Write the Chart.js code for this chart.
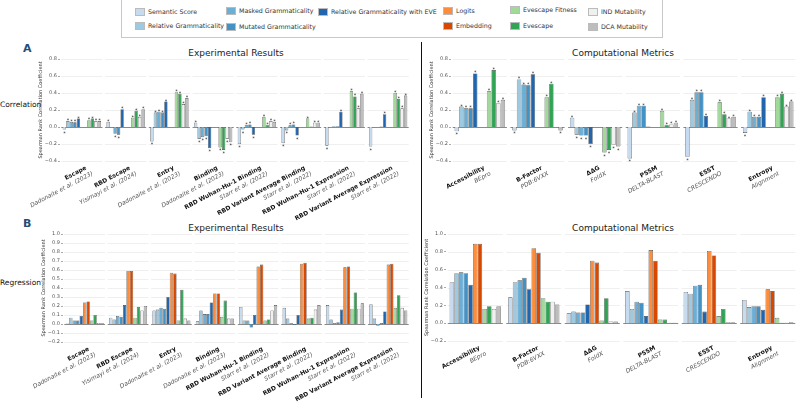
<!DOCTYPE html>
<html>
<head>
<meta charset="utf-8">
<script src="https://cdn.jsdelivr.net/npm/chart.js@4.4.1/dist/chart.umd.min.js"></script>
<style>
  body { margin: 0; width: 800px; height: 403px; position: relative; background: #fff; overflow: hidden;
         font-family: "DejaVu Sans", Verdana, sans-serif; color: #222; }
  canvas { position: absolute; left: 0; top: 0; }
  .abs { position: absolute; white-space: nowrap; }
  .legend { position: absolute; left: 121px; top: -1px; width: 540px; height: 37px; border: 1px solid #c8c8c8; }
  .item { position: absolute; height: 10px; line-height: 10px; font-size: 6.3px; color: #333; white-space: nowrap; }
  .item i { display: inline-block; width: 10px; height: 8px; vertical-align: middle; margin-right: 3px;
            border: 0.5px solid #bbb; box-sizing: border-box; }
  .item span { vertical-align: middle; color: #333; }
  .title { font-size: 9px; color: #222; transform: translate(-50%, -50%); }
  .row { font-size: 7.5px; color: #111; transform: translateY(-50%); }
  .panel { font-size: 11px; font-weight: bold; color: #1f4e79; transform: translateY(-50%); }
  .divider { position: absolute; left: 421px; top: 42px; width: 1px; height: 356px; background: #111; }
</style>
</head>
<body>
<div class="legend"></div>
<div id="keys"></div>
<div class="divider"></div>
<div class="abs panel" style="left:23px;top:48px">A</div>
<div class="abs panel" style="left:23px;top:223px">B</div>
<div class="abs row" style="left:0px;top:104px">Correlation</div>
<div class="abs row" style="left:0px;top:282px">Regression</div>
<div class="abs title" style="left:236px;top:53px">Experimental Results</div>
<div class="abs title" style="left:623px;top:53px">Computational Metrics</div>
<div class="abs title" style="left:236px;top:228px">Experimental Results</div>
<div class="abs title" style="left:623px;top:228px">Computational Metrics</div>
<canvas id="aLeft" width="800" height="403"></canvas>
<canvas id="aRight" width="800" height="403"></canvas>
<canvas id="bLeft" width="800" height="403"></canvas>
<canvas id="bRight" width="800" height="403"></canvas>
<script>
// series (same order in every panel)
const seriesNames = ['Semantic Score', 'Relative Grammaticality', 'Masked Grammaticality', 'Mutated Grammaticality',
  'Relative Grammaticality with EVE', 'Logits', 'Embedding', 'Evescape Fitness', 'Evescape', 'IND Mutability', 'DCA Mutability'];
const seriesColors = ['#c6dbef', '#9ecae1', '#6baed6', '#4292c6', '#2166ac', '#fd8d3c', '#d94801',
  '#a1d99b', '#31a354', '#f0f0f0', '#bdbdbd'];

// categories
const expNames = ['Escape', 'RBD Escape', 'Entry', 'Binding', 'RBD Wuhan-Hu-1 Binding', 'RBD Variant Average Binding',
  'RBD Wuhan-Hu-1 Expression', 'RBD Variant Average Expression'];
const expSources = ['Dadonaite et al. (2023)', 'Yisimayi et al. (2024)', 'Dadonaite et al. (2023)', 'Dadonaite et al. (2023)',
  'Starr et al. (2022)', 'Starr et al. (2022)', 'Starr et al. (2022)', 'Starr et al. (2022)'];
const compNames = ['Accessibility', 'B-Factor', 'ΔΔG', 'PSSM', 'ESST', 'Entropy'];
const compSources = ['BEpro', 'PDB:6VXX', 'FoldX', 'DELTA-BLAST', 'CRESCENDO', 'Alignment'];

// A: correlation, experimental results (rows follow seriesNames)
const corrExperimental = [
  [-0.03, 0.06, -0.17, 0.05, -0.20, -0.19, -0.22, -0.23],
  [0.07, -0.005, 0.17, -0.14, -0.03, -0.04, 0.0, 0.0],
  [0.06, -0.08, 0.18, -0.12, 0.02, 0.02, 0.01, 0.0],
  [0.055, -0.09, 0.17, -0.11, 0.03, 0.03, 0.01, 0.005],
  [0.10, 0.21, 0.30, -0.25, -0.09, -0.10, 0.18, 0.15],
  [null, null, null, null, null, null, null, null],
  [null, null, null, null, null, null, null, null],
  [0.08, 0.11, 0.41, -0.24, 0.12, 0.10, 0.42, 0.40],
  [0.10, 0.19, 0.39, -0.27, 0.02, 0.005, 0.36, 0.33],
  [0.07, 0.12, 0.27, -0.14, 0.07, 0.05, 0.22, 0.22],
  [0.07, 0.21, 0.34, -0.18, 0.06, 0.05, 0.39, 0.37]
];
// A: correlation, computational metrics
const corrComputational = [
  [-0.05, -0.04, 0.11, -0.37, -0.35, -0.07],
  [0.24, 0.56, -0.09, 0.17, 0.32, 0.18],
  [0.22, 0.50, -0.10, 0.25, 0.41, 0.12],
  [0.22, 0.49, -0.10, 0.25, 0.41, 0.12],
  [0.63, 0.62, -0.20, 0.005, 0.13, 0.35],
  [null, null, null, null, null, null],
  [null, null, null, null, null, null],
  [0.42, 0.35, -0.30, 0.19, 0.29, 0.35],
  [0.67, 0.51, -0.27, 0.02, 0.15, 0.39],
  [0.28, null, -0.21, 0.03, 0.10, 0.24],
  [0.32, -0.04, -0.23, 0.05, 0.12, 0.30]
];
// B: regression, experimental results
const regrExperimental = [
  [0.005, 0.07, 0.15, 0.03, 0.19, 0.18, 0.21, 0.22],
  [0.07, 0.05, 0.16, 0.15, 0.04, 0.06, 0.05, 0.06],
  [0.04, 0.09, 0.18, 0.11, 0.04, 0.01, 0.01, -0.02],
  [0.04, 0.08, 0.17, 0.11, -0.04, -0.01, 0.02, 0.01],
  [0.09, 0.21, 0.30, 0.24, 0.10, 0.10, 0.16, 0.14],
  [0.24, 0.59, 0.57, 0.34, 0.64, 0.67, 0.63, 0.66],
  [0.25, 0.59, 0.56, 0.34, 0.66, 0.68, 0.64, 0.67],
  [0.04, 0.07, 0.04, 0.08, 0.04, 0.06, 0.17, 0.18],
  [0.10, 0.19, 0.38, 0.26, 0.05, 0.07, 0.35, 0.32],
  [0.01, 0.15, 0.06, 0.06, 0.15, 0.16, 0.17, 0.18],
  [0.01, 0.20, 0.04, 0.06, 0.21, 0.21, 0.23, 0.15]
];
// B: regression, computational metrics
const regrComputational = [
  [0.46, 0.29, 0.11, 0.36, 0.35, 0.26],
  [0.56, 0.46, 0.13, 0.16, 0.33, 0.18],
  [0.57, 0.48, 0.12, 0.24, 0.42, 0.19],
  [0.56, 0.51, 0.12, 0.23, 0.43, 0.19],
  [0.43, 0.38, 0.21, 0.08, 0.13, 0.15],
  [0.89, 0.84, 0.70, 0.82, 0.81, 0.38],
  [0.89, 0.79, 0.68, 0.70, 0.76, 0.36],
  [0.16, 0.28, 0.03, 0.04, 0.08, 0.06],
  [0.19, 0.24, 0.28, 0.04, 0.16, 0.005],
  [0.16, 0.24, 0.02, 0.005, 0.01, 0.005],
  [0.19, 0.21, 0.02, 0.005, 0.01, 0.01]
];

// legend (html)
const legendSlots = [[135, 12], [135, 26], [226, 11], [226, 27], [318, 12], [443, 11], [443, 26], [510, 10], [510, 26], [588, 12], [588, 27]];
const keys = document.getElementById('keys');
seriesNames.forEach((n, k) => {
  const [x, y] = legendSlots[k];
  const item = document.createElement('div');
  item.className = 'item';
  item.style.left = x + 'px';
  item.style.top = (y - 5) + 'px';
  const box = document.createElement('i');
  box.style.backgroundColor = seriesColors[k];
  const txt = document.createElement('span');
  txt.textContent = n;
  item.appendChild(box);
  item.appendChild(txt);
  keys.appendChild(item);
});

const FONT = '"DejaVu Sans", Verdana, sans-serif';

// gridlines broken per group
const groupGrid = {
  id: 'groupGrid',
  beforeDatasetsDraw(chart) {
    const ctx = chart.ctx, x = chart.scales.x, y = chart.scales.y;
    const half = (x.getPixelForValue(1) - x.getPixelForValue(0)) * 0.47;
    ctx.save();
    x.getLabels().forEach((l, i) => {
      const cx = x.getPixelForValue(i);
      y.ticks.forEach(t => {
        const zero = Math.abs(t.value) < 1e-9;
        const py = Math.round(y.getPixelForValue(t.value)) + 0.5;
        ctx.strokeStyle = zero ? '#8a8a8a' : '#ebebeb';
        ctx.lineWidth = zero ? 1 : 0.8;
        ctx.beginPath();
        ctx.moveTo(cx - half, py);
        ctx.lineTo(cx + half, py);
        ctx.stroke();
      });
    });
    ctx.restore();
  }
};

// rotated two-line category labels (bold name, italic source)
const groupLabels = {
  id: 'groupLabels',
  afterDraw(chart, args, opts) {
    const ctx = chart.ctx, x = chart.scales.x, bottom = chart.chartArea.bottom;
    opts.names.forEach((name, i) => {
      ctx.save();
      ctx.translate(x.getPixelForValue(i) + 5, bottom + 8);
      ctx.rotate(-28 * Math.PI / 180);
      ctx.textAlign = 'right';
      ctx.fillStyle = '#111';
      ctx.font = 'bold 6px ' + FONT;
      ctx.fillText(name, 0, 0);
      ctx.fillStyle = '#555';
      ctx.font = 'italic 6px ' + FONT;
      ctx.fillText(opts.sources[i], 3, 8);
      ctx.restore();
    });
  }
};

// significance stars at bar tips
const stars = {
  id: 'stars',
  afterDatasetsDraw(chart, args, opts) {
    if (!opts.show) return;
    const ctx = chart.ctx;
    ctx.save();
    ctx.fillStyle = '#222';
    ctx.font = '5px ' + FONT;
    ctx.textAlign = 'center';
    chart.data.datasets.forEach((ds, d) => {
      chart.getDatasetMeta(d).data.forEach((el, i) => {
        const v = ds.data[i];
        if (v === null || Math.abs(v) < 0.02) return;
        ctx.fillText('*', el.x, v > 0 ? el.y + 1 : el.y + 5);
      });
    });
    ctx.restore();
  }
};

function makePanel(id, names, sources, rows, yMin, yMax, pad, showStars) {
  return new Chart(document.getElementById(id), {
    type: 'bar',
    data: {
      labels: names,
      datasets: seriesNames.map((n, k) => ({
        label: n,
        data: rows[k],
        backgroundColor: seriesColors[k],
        borderColor: '#4a4a4a',
        borderWidth: 0.6,
        categoryPercentage: 0.88,
        barPercentage: 0.96
      }))
    },
    options: {
      responsive: false,
      animation: false,
      devicePixelRatio: 1,
      layout: { autoPadding: false, padding: pad },
      plugins: {
        legend: { display: false },
        tooltip: { enabled: false },
        groupLabels: { names, sources },
        stars: { show: showStars }
      },
      scales: {
        x: { display: false },
        y: {
          min: yMin, max: yMax,
          ticks: {
            stepSize: 0.1, padding: 1, color: '#555', font: { size: 5, family: FONT },
            callback: v => (v < -1e-9 ? '−' : '') + Math.abs(v).toFixed(1)
          },
          grid: { drawOnChartArea: false, tickLength: 2, color: '#aaa' },
          border: { display: false },
          title: { display: true, text: 'Spearman Rank Correlation Coefficient', padding: 0, color: '#333',
                   font: { size: 5, family: FONT } },
          afterFit: s => { s.width = 22; }
        }
      }
    },
    plugins: [groupGrid, groupLabels, stars]
  });
}

makePanel('aLeft', expNames, expSources, corrExperimental, -0.4, 0.8, { left: 38, right: 390, top: 59, bottom: 242 }, true);
makePanel('aRight', compNames, compSources, corrComputational, -0.4, 0.8, { left: 429, right: 3, top: 59, bottom: 242 }, true);
makePanel('bLeft', expNames, expSources, regrExperimental, -0.2, 1.0, { left: 41, right: 390, top: 234, bottom: 61 }, false);
makePanel('bRight', compNames, compSources, regrComputational, -0.2, 1.0, { left: 424, right: 3, top: 234, bottom: 62 }, false);
</script>
</body>
</html>
